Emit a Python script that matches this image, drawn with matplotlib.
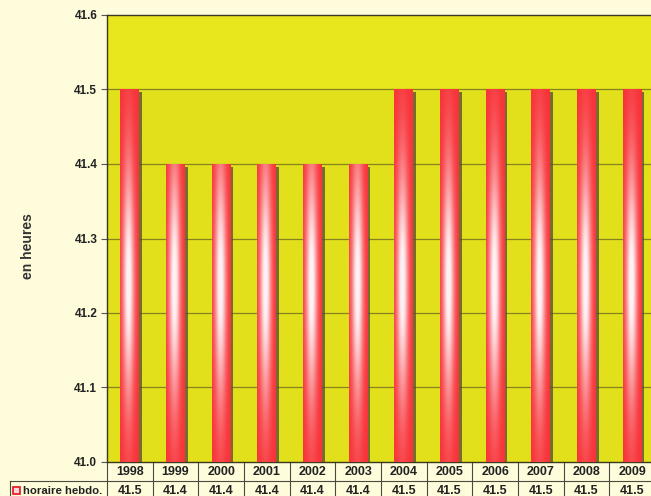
import numpy as np
import matplotlib
matplotlib.use("Agg")
import matplotlib.pyplot as plt
from matplotlib.patches import Rectangle
import matplotlib.transforms as mtransforms

years = ["1998", "1999", "2000", "2001", "2002", "2003", "2004", "2005", "2006", "2007", "2008", "2009"]
values = [41.5, 41.4, 41.4, 41.4, 41.4, 41.4, 41.5, 41.5, 41.5, 41.5, 41.5, 41.5]
series_name = "horaire hebdo."
y_label = "en heures"
y_ticks = [41.0, 41.1, 41.2, 41.3, 41.4, 41.5, 41.6]

plt.rcParams['font.family'] = ['Liberation Sans Narrow', 'Liberation Sans', 'DejaVu Sans']

W, H = 651, 496
fig = plt.figure(figsize=(W / 100, H / 100), dpi=100)
fig.patch.set_facecolor('#FEFCDA')

left_px, right_px, top_px, bot_px = 107, 655, 15, 462
ax = fig.add_axes([left_px / W, 1 - bot_px / H, (right_px - left_px) / W, (bot_px - top_px) / H])
ax.set_facecolor('#E2E01B')
n = len(years)
ax.set_xlim(-0.5, n - 0.5)
ax.set_ylim(41.0, 41.6)

# upper band slightly brighter
ax.axhspan(41.5, 41.6, color='#E8E61C', zorder=0)

# gridlines
for t in y_ticks[1:-1]:
    ax.axhline(t, color='#85821F', lw=0.9, zorder=1)

# bars with gradient
bw = 0.415
red = np.array([0.97, 0.20, 0.22])
white = np.array([1.0, 0.97, 0.98])
nx, ny = 40, 200
tx = np.linspace(0, 1, nx)
hx = np.exp(-((tx - 0.45) / 0.30) ** 2)
for i, v in enumerate(values):
    yy = np.linspace(v, 41.0, ny)  # top to bottom rows
    vy = np.exp(-((yy - 41.24) / 0.16) ** 2)
    wt = np.clip(1.05 * np.outer(vy, hx), 0, 0.97)[..., None]
    img = red * (1 - wt) + white * wt
    # shadow strip at right
    ax.add_patch(Rectangle((i + bw / 2, 41.0), 0.06, v - 41.0 - 0.004,
                           facecolor='#5E4E35', alpha=0.8, edgecolor='none', zorder=2))
    ax.imshow(img, extent=[i - bw / 2, i + bw / 2, 41.0, v], aspect='auto',
              interpolation='bilinear', zorder=3)
ax.set_xlim(-0.5, n - 0.5)
ax.set_ylim(41.0, 41.6)

# axes styling
for s in ['left', 'top', 'bottom', 'right']:
    ax.spines[s].set_color('#3A3820')
    ax.spines[s].set_linewidth(1.0)
ax.set_xticks([])
ax.set_yticks(y_ticks)
ax.set_yticklabels([f"{t:.1f}" for t in y_ticks], fontsize=8.5, fontweight='bold', color='#222222')
ax.tick_params(axis='y', direction='out', length=4, width=0.8, color='#555555', pad=3)

fig.text(28 / W, 1 - 246 / H, y_label, rotation=90, ha='center', va='center',
         fontsize=10, fontweight='bold', color='#333333', family=['Liberation Sans', 'DejaVu Sans'])

# data table below axes
trans = mtransforms.blended_transform_factory(ax.transData, ax.transAxes)
row_h = 18.5 / (bot_px - top_px)
y1 = -row_h
y2 = -2 * row_h
line_kw = dict(color='#4A4A40', lw=0.8, clip_on=False, transform=trans)
for i in range(n + 1):
    ax.plot([i - 0.5, i - 0.5], [0, y2 - 0.02], **line_kw)
figtrans_x = mtransforms.blended_transform_factory(fig.transFigure, ax.transAxes)
ax.plot([10 / W, 1.2], [y1, y1], color='#4A4A40', lw=0.8, clip_on=False, transform=figtrans_x)
ax.plot([10 / W, 10 / W], [y1, y2 - 0.02], color='#4A4A40', lw=0.8, clip_on=False, transform=figtrans_x)
for i, (yr, v) in enumerate(zip(years, values)):
    ax.text(i, y1 / 2 - 0.002, yr, transform=trans, ha='center', va='center', fontsize=9,
            fontweight='bold', color='#222222', clip_on=False)
    ax.text(i, (y1 + y2) / 2 - 0.002, f"{v:.1f}", transform=trans, ha='center', va='center',
            fontsize=9, fontweight='bold', color='#222222', clip_on=False)
# legend key + row label
ax.add_patch(Rectangle((13 / W, y1 - 0.031), 7 / W, 0.017, transform=figtrans_x,
                       facecolor='#F6D6DC', edgecolor='#E8202A', lw=1.3, clip_on=False))
ax.text(23 / W, (y1 + y2) / 2 - 0.002, series_name, transform=figtrans_x, ha='left', va='center',
        fontsize=8.2, fontweight='bold', color='#222222', clip_on=False,
        family=['Liberation Sans', 'DejaVu Sans'])

fig.savefig('out.png', dpi=100, facecolor=fig.get_facecolor())
